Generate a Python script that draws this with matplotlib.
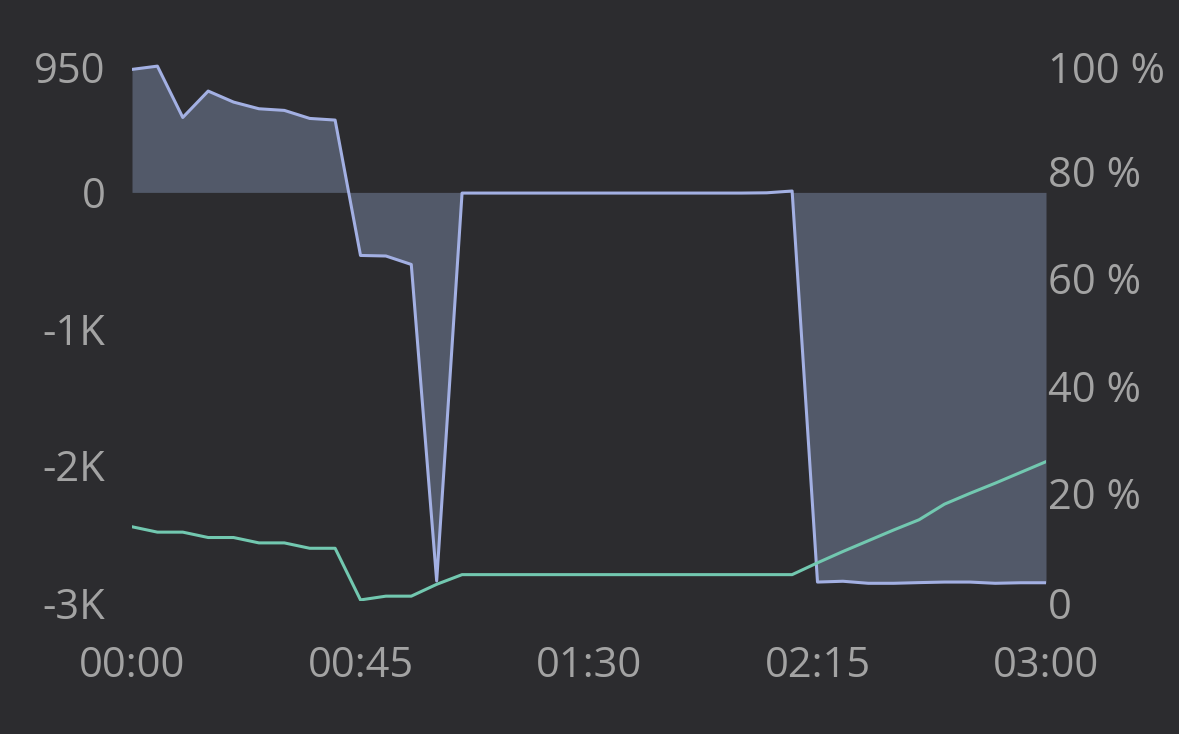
import matplotlib
matplotlib.use("Agg")
import matplotlib.pyplot as plt
import matplotlib.transforms as mtransforms
import numpy as np

# time in minutes since 00:00, one sample every 5 minutes
minutes = list(range(0, 185, 5))

# left axis series (filled to zero)
balance = [903, 927, 550, 744, 663, 614, 602, 543, 531,
           -463, -467, -529, -2853, -5,
           -5, -5, -5, -5, -5, -5, -5, -5, -5, -5, -5, -3, 10,
           -2861, -2855, -2870, -2870, -2865, -2861, -2861, -2870, -2866, -2866]

# right axis series (percent)
percent = [13.8, 12.8, 12.8, 11.8, 11.8, 10.8, 10.8, 9.8, 9.8,
           0.2, 0.9, 0.9, 3.1, 4.9,
           4.9, 4.9, 4.9, 4.9, 4.9, 4.9, 4.9, 4.9, 4.9, 4.9, 4.9, 4.9, 4.9,
           7.1, 9.2, 11.2, 13.2, 15.1, 18.0, 20.0, 21.9, 23.9, 25.9]

xticks = [0, 45, 90, 135, 180]
xtick_labels = ["00:00", "00:45", "01:30", "02:15", "03:00"]
left_ticks = [950, 0, -1000, -2000, -3000]
left_labels = ["950", "0", "-1K", "-2K", "-3K"]
right_ticks = [100, 80, 60, 40, 20, 0]
right_labels = ["100 %", "80 %", "60 %", "40 %", "20 %", "0"]

bg = "#2c2c2f"
text_col = "#a3a3a3"
blue = "#a3b0e3"
fill_col = "#525969"
green = "#72c8b0"

plt.rcParams["font.family"] = ["Open Sans", "DejaVu Sans"]

fig = plt.figure(figsize=(11.79, 7.34), dpi=100, facecolor=bg)
ax = fig.add_axes([132 / 1179, 133 / 734, 914 / 1179, 538 / 734])
ax.set_facecolor(bg)
ax2 = ax.twinx()

x = np.array(minutes)
b = np.array(balance)
ax.fill_between(x, b, 0, color=fill_col, linewidth=0, zorder=1)
ax.plot(x, b, color=blue, linewidth=2.2, zorder=3)
ax.set_xlim(0, 180)
ax.set_ylim(-3000, 950)

ax2.plot(x, percent, color=green, linewidth=2.2)
ax2.set_ylim(0, 100)

ax.set_xticks(xticks)
ax.set_xticklabels(xtick_labels)
ax.set_yticks(left_ticks)
ax.set_yticklabels(left_labels)
ax2.set_yticks(right_ticks)
ax2.set_yticklabels(right_labels)

for a in (ax, ax2):
    for s in a.spines.values():
        s.set_visible(False)

ax.tick_params(axis="x", length=0, pad=32, labelsize=30, labelcolor=text_col)
ax.tick_params(axis="y", length=0, pad=19, labelsize=30, labelcolor=text_col)
ax2.tick_params(axis="y", length=0, pad=1.5, labelsize=30, labelcolor=text_col)

# keep the edge labels inside the plot height a bit
down = mtransforms.ScaledTranslation(0, -4 / 100, fig.dpi_scale_trans)
up = mtransforms.ScaledTranslation(0, -2 / 100, fig.dpi_scale_trans)
for lab in (ax.get_yticklabels()[0], ax2.get_yticklabels()[0]):
    lab.set_transform(lab.get_transform() + down)
for lab in (ax.get_yticklabels()[-1], ax2.get_yticklabels()[-1]):
    lab.set_transform(lab.get_transform() + up)

fig.savefig("out.png", dpi=100, facecolor=bg)
